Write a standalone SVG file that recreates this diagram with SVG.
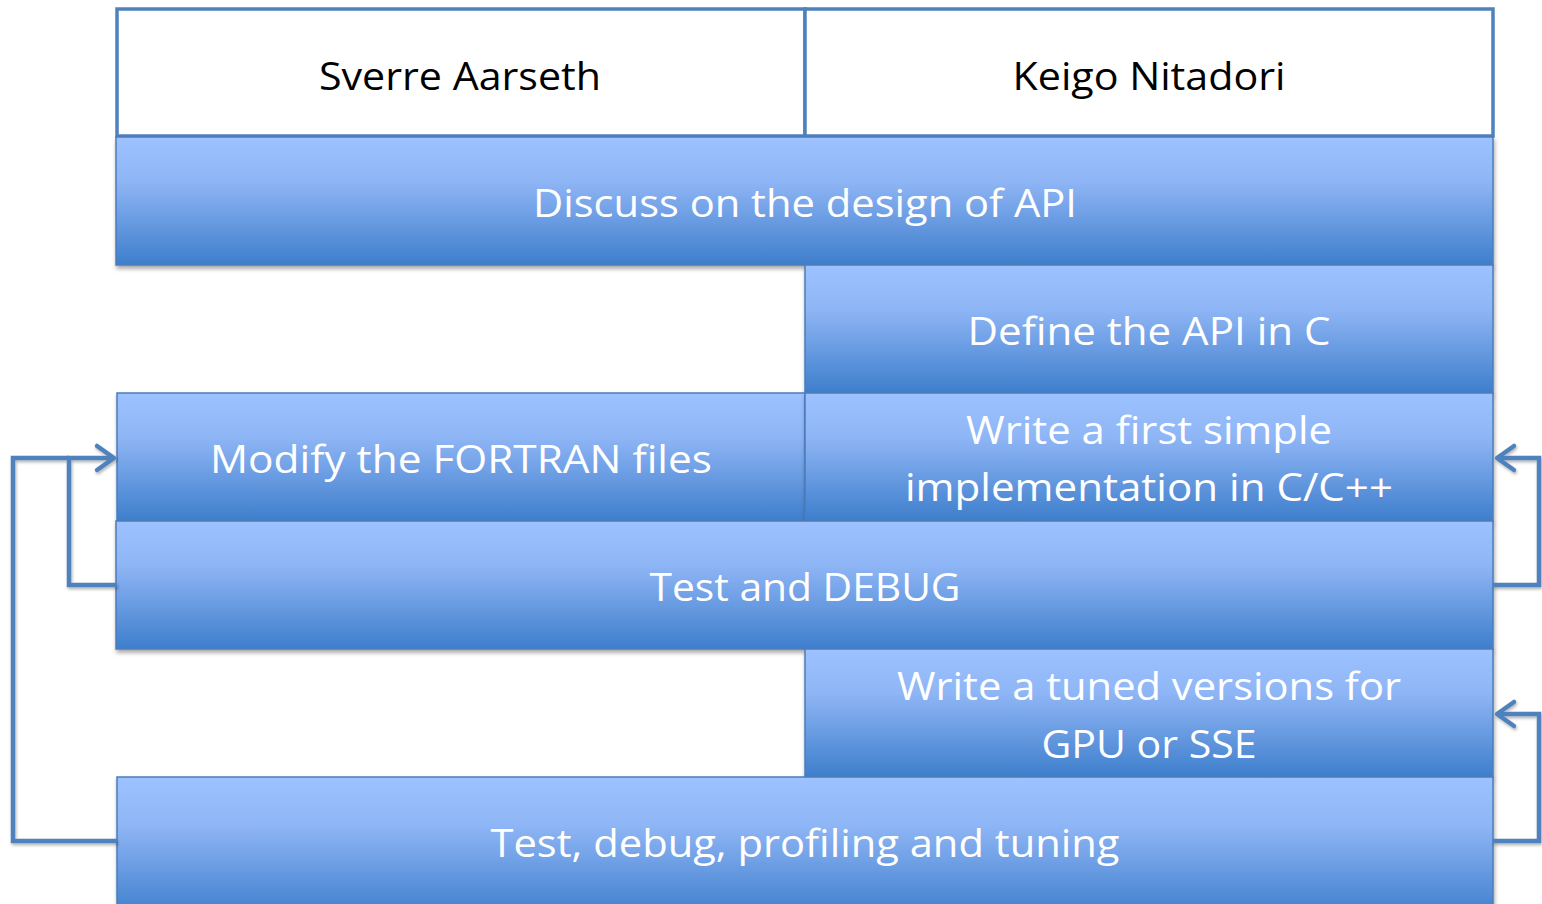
<svg xmlns="http://www.w3.org/2000/svg" width="1542" height="904" viewBox="0 0 1542 904">
  <defs>
    <linearGradient id="blockFill" x1="0" y1="0" x2="0" y2="1">
      <stop offset="0" stop-color="#9DC2FF"/>
      <stop offset="0.35" stop-color="#8EB5F5"/>
      <stop offset="1" stop-color="#3E7ECC"/>
    </linearGradient>
    <filter id="shadow" x="-5%" y="-10%" width="110%" height="125%">
      <feDropShadow dx="1" dy="3" stdDeviation="2" flood-color="#000" flood-opacity="0.35"/>
    </filter>
    <filter id="lineShadow" x="-10%" y="-10%" width="120%" height="120%">
      <feDropShadow dx="1" dy="2" stdDeviation="1.5" flood-color="#000" flood-opacity="0.3"/>
    </filter>
  </defs>
  <style>
    .block { fill: url(#blockFill); stroke: #4A7EBB; stroke-width: 1.5; filter: url(#shadow); }
    .head { fill: #FFFFFF; stroke: #4F81BD; stroke-width: 3.5; }
    .label { font-family: "Open Sans", "Liberation Sans", sans-serif; font-size: 38px; fill: #FFFFFF; text-anchor: middle; }
    .headlabel { font-family: "Open Sans", "Liberation Sans", sans-serif; font-size: 38px; fill: #000000; text-anchor: middle; }
    .conn { fill: none; stroke: #4F81BD; stroke-width: 4.5; stroke-linejoin: miter; }
    .tip { fill: none; stroke: #4F81BD; stroke-width: 4.5; stroke-linecap: round; stroke-linejoin: round; }
  </style>
  <rect width="1542" height="904" fill="#FFFFFF"/>

  <!-- column headers -->
  <g id="header-aarseth">
    <rect class="head" x="117" y="9" width="688" height="127"/>
    <text class="headlabel" x="460" y="90" textLength="282" lengthAdjust="spacingAndGlyphs">Sverre Aarseth</text>
  </g>
  <g id="header-nitadori">
    <rect class="head" x="805" y="9" width="688" height="127"/>
    <text class="headlabel" x="1149" y="90" textLength="273" lengthAdjust="spacingAndGlyphs">Keigo Nitadori</text>
  </g>

  <!-- task blocks -->
  <g id="discuss-api">
    <rect class="block" x="116" y="137" width="1377" height="128"/>
    <text class="label" x="805" y="217" textLength="544" lengthAdjust="spacingAndGlyphs">Discuss on the design of API</text>
  </g>
  <g id="define-api">
    <rect class="block" x="805" y="265" width="688" height="128"/>
    <text class="label" x="1149" y="345" textLength="363" lengthAdjust="spacingAndGlyphs">Define the API in C</text>
  </g>
  <g id="modify-fortran">
    <rect class="block" x="117" y="393" width="688" height="128"/>
    <text class="label" x="461" y="473" textLength="502" lengthAdjust="spacingAndGlyphs">Modify the FORTRAN files</text>
  </g>
  <g id="first-implementation">
    <rect class="block" x="805" y="393" width="688" height="128"/>
    <text class="label" x="1149" y="444" textLength="366" lengthAdjust="spacingAndGlyphs">Write a first simple</text>
    <text class="label" x="1149" y="501" textLength="488" lengthAdjust="spacingAndGlyphs">implementation in C/C++</text>
  </g>
  <g id="test-debug">
    <rect class="block" x="116" y="521" width="1377" height="128"/>
    <text class="label" x="805" y="601" textLength="311" lengthAdjust="spacingAndGlyphs">Test and DEBUG</text>
  </g>
  <g id="tuned-versions">
    <rect class="block" x="805" y="649" width="688" height="128"/>
    <text class="label" x="1149" y="700" textLength="504" lengthAdjust="spacingAndGlyphs">Write a tuned versions for</text>
    <text class="label" x="1149" y="758" textLength="215" lengthAdjust="spacingAndGlyphs">GPU or SSE</text>
  </g>
  <g id="profiling-tuning">
    <rect class="block" x="117" y="777" width="1376" height="140"/>
    <text class="label" x="805" y="857" textLength="629" lengthAdjust="spacingAndGlyphs">Test, debug, profiling and tuning</text>
  </g>

  <!-- feedback loops -->
  <g id="connectors" filter="url(#lineShadow)">
    <path class="conn" d="M117,841 H13 V458 H69"/>
    <path class="conn" d="M117,585 H69 V458 H112"/>
    <path class="tip" d="M97,446 L114,458 L97,470"/>
    <path class="conn" d="M1493,585 H1539 V458 H1499"/>
    <path class="tip" d="M1514,446 L1497,458 L1514,470"/>
    <path class="conn" d="M1493,841 H1539 V714 H1499"/>
    <path class="tip" d="M1514,702 L1497,714 L1514,726"/>
  </g>
</svg>
